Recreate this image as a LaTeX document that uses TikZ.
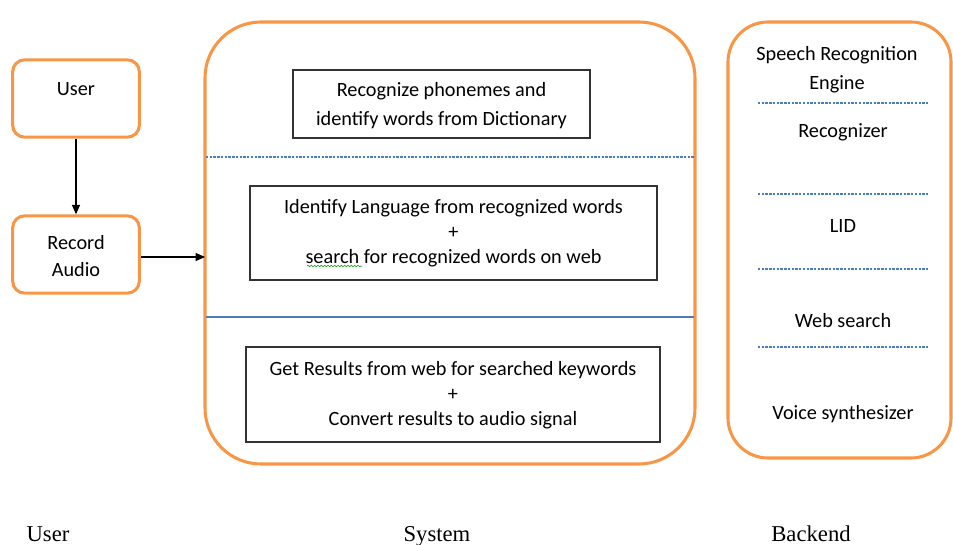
\documentclass[tikz,border=0pt]{standalone}
\usepackage{fontspec}
\setmainfont{Carlito}
\newfontfamily\serifcap{Liberation Serif}
\usetikzlibrary{arrows.meta,decorations.pathmorphing}
\definecolor{ora}{HTML}{F79646}
\definecolor{blu}{HTML}{4A7EBB}
\begin{document}
\begin{tikzpicture}[x=0.75pt,y=-0.75pt,
  obox/.style={draw=ora,line width=2.3pt,rounded corners=9pt},
  pbox/.style={draw=black!80,line width=0.8pt},
  txt/.style={font=\fontsize{15.2}{18.75}\selectfont,align=center,inner sep=0pt},
  captext/.style={font=\serifcap\fontsize{17}{20}\selectfont,inner sep=0pt,anchor=base},
  sep/.style={draw=blu,line width=0.9pt},
  sepd/.style={sep,dash pattern=on 1.8pt off 1pt},
  arr/.style={-{Triangle[length=7pt,width=6pt]},line width=0.8pt}]
\useasboundingbox (0,0) rectangle (953,545);
% user column
\node[obox,minimum width=95pt,minimum height=58pt] (user) at (76,98.5) {};
\node[txt] (usert) at (76,89.5) {User};
\node[obox,minimum width=95pt,minimum height=58pt] (rec) at (76,254.5) {};
\node[txt] (rect) at (76,256) {Record\\[1.5pt]Audio};
\draw[arr] (user.south) -- (rec.north);
% system
\draw[ora,line width=2.3pt,rounded corners=42pt] (205,22) rectangle (695,464);
\coordinate (sysw) at (205,257);
\draw[arr] (rec.east |- sysw) -- (sysw);
\draw[sepd] (206,157) -- (694,157);
\draw[sep] (206,317) -- (694,317);
\node[pbox,minimum width=222.75pt,minimum height=51pt] (b1) at (441.5,104) {};
\node[txt] (b1t) at (441.5,106) {Recognize phonemes and\\[3pt]identify words from Dictionary};
\node[pbox,minimum width=305.25pt,minimum height=70.5pt] (b2) at (453.5,233) {};
\node[txt] (b2t) at (453.5,233) {Identify Language from recognized words\\+\\search for recognized words on web};
\draw[green!60!black,line width=0.4pt,decorate,decoration={snake,amplitude=0.6pt,segment length=2.5pt}] (307,266) -- (362,266);
\node[pbox,minimum width=310.5pt,minimum height=71.25pt] (b3) at (453,394.5) {};
\node[txt] (b3t) at (453,395) {Get Results from web for searched keywords\\+\\Convert results to audio signal};
% backend
\draw[ora,line width=2.3pt,rounded corners=30pt] (728,22) rectangle (951,458);
\node[txt] (be1) at (837,69.5) {Speech Recognition\\[3pt]Engine};
\draw[sepd] (758,103) -- (928,103);
\node[txt] (be2) at (843,132) {Recognizer};
\draw[sepd] (758,194) -- (928,194);
\node[txt] (be3) at (843,226) {LID};
\draw[sepd] (758,269) -- (928,269);
\node[txt] (be4) at (843,321) {Web search};
\draw[sepd] (758,347) -- (928,347);
\node[txt] (be5) at (843,414) {Voice synthesizer};
% captions
\node[captext] (c1) at (48,541) {User};
\node[captext] (c2) at (437,541) {System};
\node[captext] (c3) at (811,541) {Backend};
\end{tikzpicture}
\end{document}
